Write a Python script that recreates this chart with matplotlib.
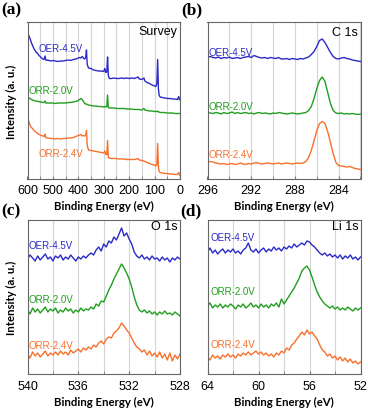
import numpy as np
import matplotlib
matplotlib.use("Agg")
import matplotlib.pyplot as plt
from matplotlib.ticker import MultipleLocator

# ---- data (heights in arbitrary units) ----
e_survey = [600, 595, 590, 585, 580, 575, 570, 565, 560, 555, 550, 545, 540, 535, 531, 528,
            525, 520, 510, 500, 490, 480, 470, 460, 450, 440, 430, 420, 410, 400, 395, 390,
            385, 380, 375, 371, 368, 365, 360, 350, 340, 330, 320, 310, 300, 296, 292, 288,
            285, 282, 278, 270, 260, 250, 240, 230, 220, 210, 200, 190, 180, 170, 165, 160,
            150, 142, 138, 130, 120, 110, 100, 95, 91, 88, 85, 82, 78, 70, 60, 50, 40, 30,
            20, 10, 5, 2, 0]
survey_oer45 = [147, 143, 140, 136, 133, 130, 128, 126, 125, 123, 122, 120.5, 119.5, 119, 122.5, 118.5,
                118, 118.5, 117.5, 118, 117.5, 117, 117.5, 117.5, 118, 118.5, 118, 119, 119.5, 120.5, 121, 120.5,
                122, 120.5, 119.5, 121, 128.5, 114, 110.5, 110, 108.5, 108, 107.5, 107.5, 107, 110, 106, 106.5,
                121.5, 103, 100, 100, 100.5, 100, 100, 100.5, 100, 100.5, 100, 100.5, 100, 101, 101.5, 99.5,
                99, 100.5, 97.5, 96, 95, 93.5, 92.5, 92, 95, 119, 90, 83, 81.5, 81, 80.5, 80, 80, 79.5,
                79.5, 79, 82, 79, 78.5]
survey_orr20 = [81.5, 80.5, 80, 79, 78.5, 78, 77.5, 77.5, 77, 77, 76.5, 76.5, 76, 76, 77.5, 75.5,
                75.5, 75.5, 75.5, 75.5, 75, 75.5, 75.5, 75.5, 75.5, 76, 76, 76.5, 77, 78, 79, 80,
                79, 77, 75, 74.5, 74.5, 74, 73.5, 73, 72.5, 72.5, 72, 72, 71.5, 72, 71.5, 72,
                83.5, 71, 70.5, 70.5, 70.5, 70, 70, 70, 70, 69.5, 69.5, 69.5, 69, 69, 69, 69,
                68.5, 70, 68.5, 68, 67.5, 67.5, 67, 67, 67, 67.5, 66.5, 66.5, 66, 66, 66, 65.5, 65.5, 65.5,
                65, 65, 65, 65, 65]
survey_orr24 = [62, 57, 53.5, 51, 50, 48, 47, 46, 45, 44, 43.5, 43, 42.5, 42, 44.5, 41,
                40.5, 40.5, 40, 40, 39.5, 40, 39.5, 40, 40, 40.5, 40.5, 41, 42, 43, 43.5, 44,
                42.5, 43, 42.5, 43, 48, 33, 28.5, 28, 27.5, 27, 26.5, 26, 25.5, 27.5, 24, 24,
                38, 21, 20.5, 20, 20, 20, 19.5, 19.5, 19.5, 19, 19, 19, 19, 19.5, 20, 18.5,
                18, 17.5, 17, 16, 15, 14, 13.5, 12.5, 14, 35, 12, 7, 6, 5.5, 5, 5, 4.5, 4.5,
                4, 4, 6, 3.5, 3]

e_c1s = np.linspace(296, 282, 57)
c1s_oer45 = [121.5, 122, 121, 120.5, 121.5, 120, 121, 120.5, 121.5, 120, 120.5, 121, 120, 121, 121.5,
             122, 121, 123, 122, 121, 120.5, 121, 120, 121, 120.5, 120, 121, 119.5, 119.5, 120, 119,
             120, 119.5, 119, 120, 119.5, 120.5, 121.5, 124, 127, 132, 138, 139.5, 136, 131, 126,
             122, 120, 119.5, 120.5, 121, 120, 119.5, 118.5, 118, 117.5, 117]
c1s_orr20 = [66, 65.5, 65, 66, 65.5, 64.5, 66, 65, 65.5, 66.5, 65, 66, 65, 65.5, 66, 65, 65.5, 64.5,
             65.5, 66, 65, 65.5, 65, 64.5, 65.5, 65, 66, 65.5, 65, 64.5, 65, 65.5, 65, 64.5, 65, 65.5,
             66, 68, 72, 80, 90, 98, 101.5, 97, 86, 75, 68, 65.5, 65, 65.5, 64.5, 65, 64.5, 65, 64.5,
             64, 64.5]
c1s_orr24 = [16, 17, 16.5, 15.5, 15, 14.5, 15, 14, 14.5, 15, 14, 14.5, 15.5, 14.5, 14, 15, 14.5, 15.5,
             16, 15, 14.5, 15, 15.5, 15, 14.5, 15, 15.5, 14.5, 15, 15.5, 15, 14.5, 15, 15.5, 15, 15.5,
             17, 21, 28, 38, 48, 55, 57, 55, 47, 36, 25, 16, 13, 12.5, 12, 11.5, 12, 11, 10, 9.5, 9]

e_o1s = np.linspace(540, 528, 61)
o1s_oer45 = [115, 119, 116, 113, 118, 114, 117, 120, 115, 117, 113, 118, 116, 119, 114, 117, 115, 119,
             116, 113, 117, 115, 118, 116, 119, 121, 119, 124, 127, 123, 130, 127, 133, 131, 137, 134,
             140, 146, 138, 141, 135, 130, 122, 118, 116, 119, 115, 117, 114, 118, 115, 116, 113, 117,
             114, 116, 112, 116, 114, 117, 115]
o1s_orr20 = [64, 60, 66, 62, 65, 61, 64, 67, 62, 65, 63, 66, 61, 64, 62, 66, 63, 65, 61, 64, 62, 66,
             63, 65, 64, 67, 65, 70, 68, 73, 72, 78, 84, 89, 95, 100, 105, 110, 106, 101, 95, 87, 77,
             69, 64, 62, 64, 61, 63, 60, 62, 59, 62, 60, 63, 60, 61, 59, 62, 60, 58]
o1s_orr24 = [20, 16, 22, 18, 21, 17, 20, 23, 18, 21, 19, 22, 19, 23, 20, 22, 19, 24, 21, 23, 25, 22,
             26, 24, 27, 25, 29, 27, 31, 33, 30, 35, 37, 36, 41, 43, 46, 51, 48, 44, 41, 36, 31, 27,
             25, 22, 24, 19, 23, 18, 21, 17, 22, 16, 20, 14, 21, 13, 19, 15, 20]

e_li1s = np.linspace(64, 52, 61)
li1s_oer45 = [122, 126, 121, 124, 120, 123, 125, 121, 124, 122, 125, 121, 123, 120, 124, 126, 131,
              124, 122, 125, 121, 124, 126, 122, 125, 123, 127, 124, 126, 123, 127, 125, 128, 126,
              130, 127, 129, 131, 129, 133, 132, 129, 127, 124, 121, 119, 121, 118, 120, 117, 119,
              116, 119, 115, 118, 116, 119, 115, 117, 114, 117]
li1s_orr20 = [68, 71, 66, 69, 67, 70, 66, 69, 67, 70, 68, 65, 69, 67, 70, 66, 68, 71, 67, 69, 66, 70,
              67, 69, 66, 70, 68, 71, 67, 75, 70, 74, 78, 82, 86, 91, 96, 103, 106, 108, 104, 97, 89,
              82, 77, 73, 70, 68, 66, 68, 65, 67, 64, 66, 64, 67, 65, 63, 66, 64, 66]
li1s_orr24 = [17, 14, 19, 16, 18, 15, 19, 17, 20, 17, 19, 16, 20, 18, 21, 19, 22, 19, 21, 23, 20, 22,
              19, 21, 18, 20, 17, 21, 19, 23, 21, 26, 24, 29, 31, 35, 38, 42, 39, 44, 40, 42, 38, 35,
              29, 24, 22, 18, 20, 16, 18, 14, 17, 13, 16, 12, 15, 11, 13, 10, 12]

series_names = ["OER-4.5V", "ORR-2.0V", "ORR-2.4V"]
colors = ["#2a2ac8", "#1f9e1f", "#f8702c"]

# ---- figure ----
W, H = 368, 410
fig = plt.figure(figsize=(W / 100, H / 100), dpi=100)
plt.rcParams["font.family"] = ["Liberation Sans", "DejaVu Sans"]


def make_axes(l, t, r, b):
    return fig.add_axes([l / W, 1 - b / H, (r - l) / W, (b - t) / H])


panels = [
    dict(box=(27.5, 23, 180, 179.5), x=e_survey, ys=[survey_oer45, survey_orr20, survey_orr24],
         xlim=(600, 0), ylim=(0, 156.5), major=100, minor=50, title="Survey", title_y=148,
         label_x=[555, 595, 555], label_y=[130, 88, 25], tag="(a)", tag_xy=(1, 10)),
    dict(box=(207.5, 23, 360.5, 179.5), x=e_c1s, ys=[c1s_oer45, c1s_orr20, c1s_orr24],
         xlim=(296, 282), ylim=(0, 156.5), major=4, minor=2, title="C 1s", title_y=147,
         label_x=[295.9] * 3, label_y=[127, 72, 24], tag="(b)", tag_xy=(181, 10)),
    dict(box=(27.5, 221, 180, 375), x=e_o1s, ys=[o1s_oer45, o1s_orr20, o1s_orr24],
         xlim=(540, 528), ylim=(0, 154), major=4, minor=2, title="O 1s", title_y=147.5,
         label_x=[539.9] * 3, label_y=[129, 75, 29], tag="(c)", tag_xy=(1, 211)),
    dict(box=(207.5, 221, 360.5, 375), x=e_li1s, ys=[li1s_oer45, li1s_orr20, li1s_orr24],
         xlim=(64, 52), ylim=(0, 154), major=4, minor=2, title="Li 1s", title_y=147.5,
         label_x=[63.8] * 3, label_y=[137, 83, 30], tag="(d)", tag_xy=(180, 211)),
]

for p in panels:
    ax = make_axes(*p["box"])
    for y, name, c, lx, ly in zip(p["ys"], series_names, colors, p["label_x"], p["label_y"]):
        ax.plot(p["x"], y, color=c, lw=1.0)
        ax.text(lx, ly, name, color=c, fontsize=7, ha="left", va="center")
    ax.set_xlim(*p["xlim"])
    ax.set_ylim(*p["ylim"])
    ax.xaxis.set_major_locator(MultipleLocator(p["major"]))
    ax.xaxis.set_minor_locator(MultipleLocator(p["minor"]))
    ax.grid(True, which="both", axis="x", color="#d4d4d4", lw=0.8)
    ax.set_axisbelow(True)
    ax.set_yticks([])
    ax.tick_params(axis="x", which="both", direction="in", length=2.5, color="#777777",
                   labelsize=9, pad=4)
    for s in ax.spines.values():
        s.set_color("#666666")
        s.set_linewidth(0.8)
    ax.text(0.985, p["title_y"], p["title"], transform=ax.get_yaxis_transform(),
            ha="right", va="center", fontsize=9)
    ax.set_xlabel("Binding Energy (eV)", family="Lato", weight="bold", fontsize=8.2, labelpad=3)
    fig.text(p["tag_xy"][0] / W, 1 - p["tag_xy"][1] / H, p["tag"], family="Liberation Serif",
             weight="bold", fontsize=12.5, ha="left", va="center")

for yc in (101.5, 298):
    fig.text(11 / W, 1 - yc / H, "Intensity (a. u.)", family="Lato", weight="bold",
             fontsize=8.2, rotation=90, ha="center", va="center")

fig.savefig("out.png", dpi=100)
